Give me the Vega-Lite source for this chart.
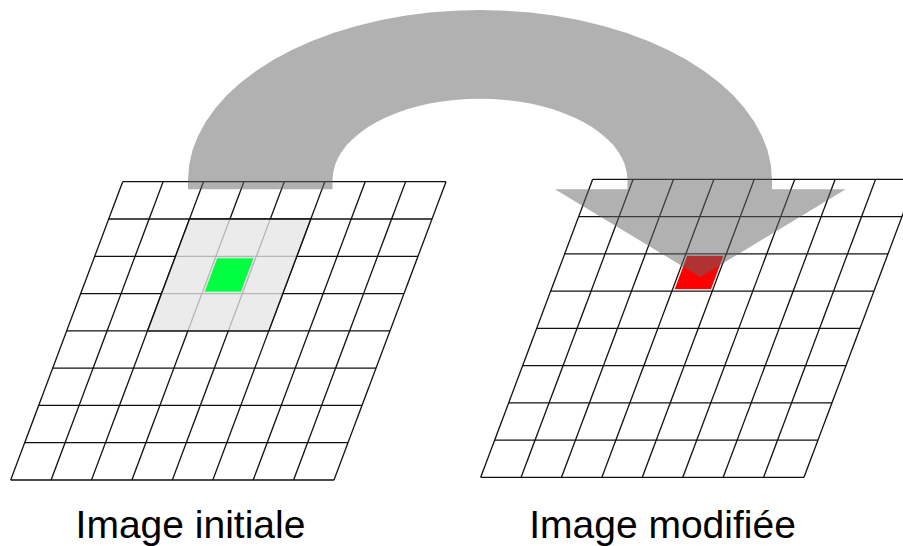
{
  "$schema": "https://vega.github.io/schema/vega-lite/v6.json",
  "width": 903,
  "height": 546,
  "autosize": {"type": "fit", "contains": "padding"},
  "padding": 0,
  "background": "white",
  "config": {"view": {"stroke": null}},
  "datasets": {
    "grid": [
      {"panel": "left", "kind": "row", "x": 122.7, "y": 181.7, "x2": 446.0, "y2": 181.7},
      {"panel": "left", "kind": "row", "x": 108.7, "y": 219.0, "x2": 432.0, "y2": 219.0},
      {"panel": "left", "kind": "row", "x": 94.7, "y": 256.3, "x2": 418.0, "y2": 256.3},
      {"panel": "left", "kind": "row", "x": 80.7, "y": 293.6, "x2": 404.0, "y2": 293.6},
      {"panel": "left", "kind": "row", "x": 66.7, "y": 330.9, "x2": 390.0, "y2": 330.9},
      {"panel": "left", "kind": "row", "x": 52.7, "y": 368.2, "x2": 376.0, "y2": 368.2},
      {"panel": "left", "kind": "row", "x": 38.7, "y": 405.4, "x2": 362.0, "y2": 405.4},
      {"panel": "left", "kind": "row", "x": 24.7, "y": 442.7, "x2": 348.0, "y2": 442.7},
      {"panel": "left", "kind": "row", "x": 10.7, "y": 480.0, "x2": 334.0, "y2": 480.0},
      {"panel": "left", "kind": "col", "x": 122.7, "y": 181.7, "x2": 10.7, "y2": 480.0},
      {"panel": "left", "kind": "col", "x": 163.1, "y": 181.7, "x2": 51.1, "y2": 480.0},
      {"panel": "left", "kind": "col", "x": 203.5, "y": 181.7, "x2": 91.5, "y2": 480.0},
      {"panel": "left", "kind": "col", "x": 243.9, "y": 181.7, "x2": 131.9, "y2": 480.0},
      {"panel": "left", "kind": "col", "x": 284.3, "y": 181.7, "x2": 172.3, "y2": 480.0},
      {"panel": "left", "kind": "col", "x": 324.8, "y": 181.7, "x2": 212.8, "y2": 480.0},
      {"panel": "left", "kind": "col", "x": 365.2, "y": 181.7, "x2": 253.2, "y2": 480.0},
      {"panel": "left", "kind": "col", "x": 405.6, "y": 181.7, "x2": 293.6, "y2": 480.0},
      {"panel": "left", "kind": "col", "x": 446.0, "y": 181.7, "x2": 334.0, "y2": 480.0},
      {"panel": "right", "kind": "row", "x": 592.7, "y": 179.3, "x2": 916.0, "y2": 179.3},
      {"panel": "right", "kind": "row", "x": 578.7, "y": 216.55, "x2": 902.0, "y2": 216.55},
      {"panel": "right", "kind": "row", "x": 564.7, "y": 253.8, "x2": 888.0, "y2": 253.8},
      {"panel": "right", "kind": "row", "x": 550.7, "y": 291.05, "x2": 874.0, "y2": 291.05},
      {"panel": "right", "kind": "row", "x": 536.7, "y": 328.3, "x2": 860.0, "y2": 328.3},
      {"panel": "right", "kind": "row", "x": 522.7, "y": 365.55, "x2": 846.0, "y2": 365.55},
      {"panel": "right", "kind": "row", "x": 508.7, "y": 402.8, "x2": 832.0, "y2": 402.8},
      {"panel": "right", "kind": "row", "x": 494.7, "y": 440.05, "x2": 818.0, "y2": 440.05},
      {"panel": "right", "kind": "row", "x": 480.7, "y": 477.3, "x2": 804.0, "y2": 477.3},
      {"panel": "right", "kind": "col", "x": 592.7, "y": 179.3, "x2": 480.7, "y2": 477.3},
      {"panel": "right", "kind": "col", "x": 633.1, "y": 179.3, "x2": 521.1, "y2": 477.3},
      {"panel": "right", "kind": "col", "x": 673.5, "y": 179.3, "x2": 561.5, "y2": 477.3},
      {"panel": "right", "kind": "col", "x": 713.9, "y": 179.3, "x2": 601.9, "y2": 477.3},
      {"panel": "right", "kind": "col", "x": 754.3, "y": 179.3, "x2": 642.3, "y2": 477.3},
      {"panel": "right", "kind": "col", "x": 794.8, "y": 179.3, "x2": 682.8, "y2": 477.3},
      {"panel": "right", "kind": "col", "x": 835.2, "y": 179.3, "x2": 723.2, "y2": 477.3},
      {"panel": "right", "kind": "col", "x": 875.6, "y": 179.3, "x2": 763.6, "y2": 477.3},
      {"panel": "right", "kind": "col", "x": 916.0, "y": 179.3, "x2": 804.0, "y2": 477.3}
    ],
    "highlight": [
      {"i": 0, "x": 189.5, "y": 219.0},
      {"i": 1, "x": 310.8, "y": 219.0},
      {"i": 2, "x": 268.8, "y": 330.9},
      {"i": 3, "x": 147.5, "y": 330.9},
      {"i": 4, "x": 189.5, "y": 219.0}
    ],
    "source": [
      {"i": 0, "x": 216.9, "y": 257.8},
      {"i": 1, "x": 254.1, "y": 257.8},
      {"i": 2, "x": 241.3, "y": 292.1},
      {"i": 3, "x": 204.1, "y": 292.1},
      {"i": 4, "x": 216.9, "y": 257.8}
    ],
    "target": [
      {"i": 0, "x": 686.9, "y": 255.3},
      {"i": 1, "x": 724.1, "y": 255.3},
      {"i": 2, "x": 711.3, "y": 289.55},
      {"i": 3, "x": 674.1, "y": 289.55},
      {"i": 4, "x": 686.9, "y": 255.3}
    ],
    "arrow": [
      {"i": 0, "x": 188.0, "y": 189.3},
      {"i": 1, "x": 188.0, "y": 180.0},
      {"i": 2, "x": 189.1, "y": 165.2},
      {"i": 3, "x": 192.4, "y": 150.5},
      {"i": 4, "x": 198.0, "y": 136.0},
      {"i": 5, "x": 205.6, "y": 121.9},
      {"i": 6, "x": 215.4, "y": 108.2},
      {"i": 7, "x": 227.1, "y": 95.0},
      {"i": 8, "x": 240.8, "y": 82.5},
      {"i": 9, "x": 256.3, "y": 70.7},
      {"i": 10, "x": 273.5, "y": 59.8},
      {"i": 11, "x": 292.3, "y": 49.8},
      {"i": 12, "x": 312.5, "y": 40.7},
      {"i": 13, "x": 334.0, "y": 32.8},
      {"i": 14, "x": 356.6, "y": 25.9},
      {"i": 15, "x": 380.1, "y": 20.3},
      {"i": 16, "x": 404.4, "y": 15.8},
      {"i": 17, "x": 429.3, "y": 12.6},
      {"i": 18, "x": 454.6, "y": 10.7},
      {"i": 19, "x": 480.0, "y": 10.0},
      {"i": 20, "x": 505.4, "y": 10.7},
      {"i": 21, "x": 530.7, "y": 12.6},
      {"i": 22, "x": 555.6, "y": 15.8},
      {"i": 23, "x": 579.9, "y": 20.3},
      {"i": 24, "x": 603.4, "y": 25.9},
      {"i": 25, "x": 626.0, "y": 32.8},
      {"i": 26, "x": 647.5, "y": 40.7},
      {"i": 27, "x": 667.7, "y": 49.8},
      {"i": 28, "x": 686.5, "y": 59.8},
      {"i": 29, "x": 703.7, "y": 70.7},
      {"i": 30, "x": 719.2, "y": 82.5},
      {"i": 31, "x": 732.9, "y": 95.0},
      {"i": 32, "x": 744.6, "y": 108.2},
      {"i": 33, "x": 754.4, "y": 121.9},
      {"i": 34, "x": 762.0, "y": 136.0},
      {"i": 35, "x": 767.6, "y": 150.5},
      {"i": 36, "x": 770.9, "y": 165.2},
      {"i": 37, "x": 772.0, "y": 180.0},
      {"i": 38, "x": 772.0, "y": 189.3},
      {"i": 39, "x": 845.7, "y": 189.3},
      {"i": 40, "x": 700.3, "y": 277.0},
      {"i": 41, "x": 555.0, "y": 189.3},
      {"i": 42, "x": 627.5, "y": 189.3},
      {"i": 43, "x": 627.5, "y": 180.0},
      {"i": 44, "x": 626.9, "y": 172.9},
      {"i": 45, "x": 625.3, "y": 165.9},
      {"i": 46, "x": 622.5, "y": 159.0},
      {"i": 47, "x": 618.6, "y": 152.2},
      {"i": 48, "x": 613.7, "y": 145.6},
      {"i": 49, "x": 607.7, "y": 139.4},
      {"i": 50, "x": 600.8, "y": 133.4},
      {"i": 51, "x": 593.0, "y": 127.7},
      {"i": 52, "x": 584.3, "y": 122.5},
      {"i": 53, "x": 574.8, "y": 117.7},
      {"i": 54, "x": 564.6, "y": 113.4},
      {"i": 55, "x": 553.8, "y": 109.6},
      {"i": 56, "x": 542.3, "y": 106.3},
      {"i": 57, "x": 530.5, "y": 103.6},
      {"i": 58, "x": 518.2, "y": 101.5},
      {"i": 59, "x": 505.6, "y": 99.9},
      {"i": 60, "x": 492.9, "y": 99.0},
      {"i": 61, "x": 480.0, "y": 98.7},
      {"i": 62, "x": 467.1, "y": 99.0},
      {"i": 63, "x": 454.4, "y": 99.9},
      {"i": 64, "x": 441.8, "y": 101.5},
      {"i": 65, "x": 429.5, "y": 103.6},
      {"i": 66, "x": 417.7, "y": 106.3},
      {"i": 67, "x": 406.2, "y": 109.6},
      {"i": 68, "x": 395.4, "y": 113.4},
      {"i": 69, "x": 385.2, "y": 117.7},
      {"i": 70, "x": 375.7, "y": 122.5},
      {"i": 71, "x": 367.0, "y": 127.7},
      {"i": 72, "x": 359.2, "y": 133.4},
      {"i": 73, "x": 352.3, "y": 139.4},
      {"i": 74, "x": 346.3, "y": 145.6},
      {"i": 75, "x": 341.4, "y": 152.2},
      {"i": 76, "x": 337.5, "y": 159.0},
      {"i": 77, "x": 334.7, "y": 165.9},
      {"i": 78, "x": 333.1, "y": 172.9},
      {"i": 79, "x": 332.5, "y": 180.0},
      {"i": 80, "x": 332.5, "y": 189.3}
    ],
    "labels": [
      {"label": "Image initiale", "x": 190.5, "y": 538},
      {"label": "Image modifiée", "x": 662.5, "y": 538}
    ]
  },
  "encoding": {
    "x": {"field": "x", "type": "quantitative", "scale": {"domain": [0, 903], "nice": false, "zero": false}, "axis": null},
    "y": {"field": "y", "type": "quantitative", "scale": {"domain": [546, 0], "nice": false, "zero": false}, "axis": null}
  },
  "layer": [
    {
      "data": {"name": "grid"},
      "mark": {"type": "rule", "color": "#111111", "strokeWidth": 1.3, "clip": true},
      "encoding": {
        "x2": {"field": "x2"},
        "y2": {"field": "y2"}
      }
    },
    {
      "data": {"name": "highlight"},
      "mark": {"type": "line", "fill": "#e6e6e6", "fillOpacity": 0.78, "stroke": "transparent", "strokeWidth": 0},
      "encoding": {"order": {"field": "i", "type": "quantitative"}}
    },
    {
      "data": {"name": "highlight"},
      "mark": {"type": "line", "stroke": "#111111", "strokeWidth": 1.3},
      "encoding": {"order": {"field": "i", "type": "quantitative"}}
    },
    {
      "data": {"name": "source"},
      "mark": {"type": "line", "fill": "#00ff40", "stroke": "#e4e4e4", "strokeWidth": 1},
      "encoding": {"order": {"field": "i", "type": "quantitative"}}
    },
    {
      "data": {"name": "target"},
      "mark": {"type": "line", "fill": "#ff0000", "stroke": "#f2dede", "strokeWidth": 1},
      "encoding": {"order": {"field": "i", "type": "quantitative"}}
    },
    {
      "data": {"name": "arrow"},
      "mark": {"type": "line", "fill": "#646464", "fillOpacity": 0.5, "stroke": "transparent", "strokeWidth": 0},
      "encoding": {"order": {"field": "i", "type": "quantitative"}}
    },
    {
      "data": {"name": "labels"},
      "mark": {"type": "text", "font": "Liberation Sans", "fontSize": 39, "color": "#000000", "align": "center", "baseline": "alphabetic"},
      "encoding": {"text": {"field": "label", "type": "nominal"}}
    }
  ]
}
